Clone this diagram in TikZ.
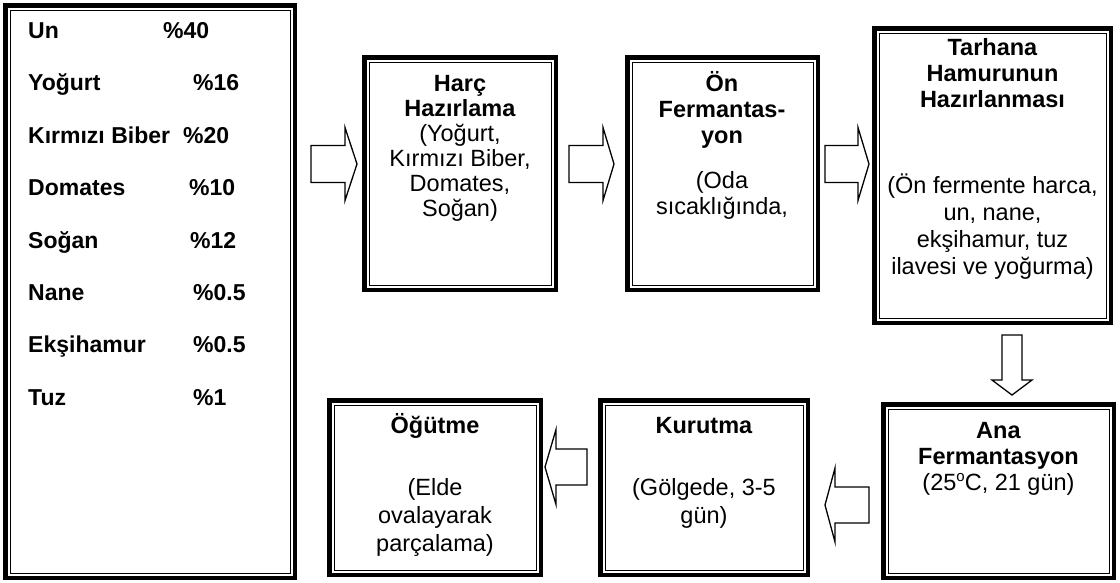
\documentclass[tikz,border=0pt]{standalone}
\usepackage{fontspec}
\setmainfont{Liberation Sans}
\tikzset{
  obox/.style={draw, line width=4.5pt, inner sep=0pt, outer sep=0pt},
  ibox/.style={draw, line width=1pt},
  blk/.style={draw, line width=1.3pt, fill=white, line join=miter},
  btxt/.style={align=center, inner sep=0pt, anchor=north},
}
% name, x1, y1, x2, y2 (pixels, y downward)
\newcommand\tbox[5]{%
  \node[obox, minimum width={#4-#2-4.5}, minimum height={#5-#3-4.5}] (#1) at ({(#2+#4)/2},{(#3+#5)/2}) {};
  \draw[ibox] ([xshift=4.75pt,yshift=-4.75pt]#1.north west) rectangle ([xshift=-4.75pt,yshift=4.75pt]#1.south east);
}
% horizontal block arrow: x start, x head base, x tip, y centre, half shaft, half head
\newcommand\harrow[6]{%
  \draw[blk] (#1,{#4-#5}) -- (#2,{#4-#5}) -- (#2,{#4-#6}) -- (#3,#4) -- (#2,{#4+#6}) -- (#2,{#4+#5}) -- (#1,{#4+#5}) -- cycle;
}
% vertical block arrow: y start, y head base, y tip, x centre, half shaft, half head
\newcommand\varrow[6]{%
  \draw[blk] ({#4-#5},#1) -- ({#4-#5},#2) -- ({#4-#6},#2) -- (#4,#3) -- ({#4+#6},#2) -- ({#4+#5},#2) -- ({#4+#5},#1) -- cycle;
}
\newcommand\degsup{\raisebox{9.5pt}{\fontsize{15}{15}\selectfont o}}
\begin{document}
\begin{tikzpicture}[x=1pt, y=-1pt]
\useasboundingbox (0,0) rectangle (1120,582);
\fill[white] (0,0) rectangle (1120,582);

% boxes
\tbox{ing}{3}{3}{297}{580}
\tbox{harc}{362}{55}{558}{292}
\tbox{onf}{625}{55}{820}{292}
\tbox{tar}{872}{26}{1113}{325}
\tbox{ana}{881}{402}{1116}{580}
\tbox{kur}{598}{398}{810}{577}
\tbox{ogu}{327}{398}{543}{577}

% ingredient list
\node[anchor=north west, align=left, inner sep=0pt, font=\fontsize{23}{52.4}\selectfont\bfseries] (list) at (28,14.25)
 {\rule{0pt}{24pt}\makebox[135pt][l]{Un}\%40\\
  \makebox[165pt][l]{Yoğurt}\%16\\
  \makebox[155pt][l]{Kırmızı Biber}\%20\\
  \makebox[161pt][l]{Domates}\%10\\
  \makebox[162pt][l]{Soğan}\%12\\
  \makebox[165pt][l]{Nane}\%0.5\\
  \makebox[165pt][l]{Ekşihamur}\%0.5\\
  \makebox[165pt][l]{Tuz}\%1};

% box texts
\node[btxt, font=\fontsize{23.5}{25}\selectfont] (t2) at (460,67.4)
 {\rule{0pt}{24pt}\textbf{Harç}\\ \textbf{Hazırlama}\\ (Yoğurt,\\ Kırmızı Biber,\\ Domates,\\ Soğan)};
\node[btxt, font=\fontsize{23.5}{26}\selectfont] (t3) at (722,67.4)
 {\rule{0pt}{24pt}\textbf{Ön}\\ \textbf{Fermantas-}\\ \textbf{yon}\\[19pt] (Oda\\ sıcaklığında,};
\node[btxt, font=\fontsize{23.5}{26}\selectfont] (t4) at (992.5,31.4)
 {\rule{0pt}{24pt}\textbf{Tarhana}\\ \textbf{Hamurunun}\\ \textbf{Hazırlanması}\\[60pt] (Ön fermente harca,\\[1pt] un, nane,\\[1pt] ekşihamur, tuz\\[1pt] ilavesi ve yoğurma)};
\node[btxt, font=\fontsize{23.5}{26}\selectfont] (t5) at (998.5,414.4)
 {\rule{0pt}{24pt}\textbf{Ana}\\ \textbf{Fermantasyon}\\ (25\degsup C, 21 gün)};
\node[btxt, font=\fontsize{23.5}{28}\selectfont] (t6) at (704,409.4)
 {\rule{0pt}{24pt}\textbf{Kurutma}\\[34pt] (Gölgede, 3-5\\ gün)};
\node[btxt, font=\fontsize{23.5}{28}\selectfont] (t7) at (435,409.4)
 {\rule{0pt}{24pt}\textbf{Öğütme}\\[34pt] (Elde\\ ovalayarak\\ parçalama)};

% block arrows
\harrow{311}{345}{357}{164}{18.5}{36.5}
\harrow{569}{603}{614}{164}{18.5}{36.5}
\harrow{825}{858}{869}{164}{18.5}{36.5}
\varrow{335}{380}{395}{1012}{10}{20}
\harrow{869}{835}{825}{505}{18}{37}
\harrow{587}{556}{545}{467}{18}{37.5}
\end{tikzpicture}
\end{document}
